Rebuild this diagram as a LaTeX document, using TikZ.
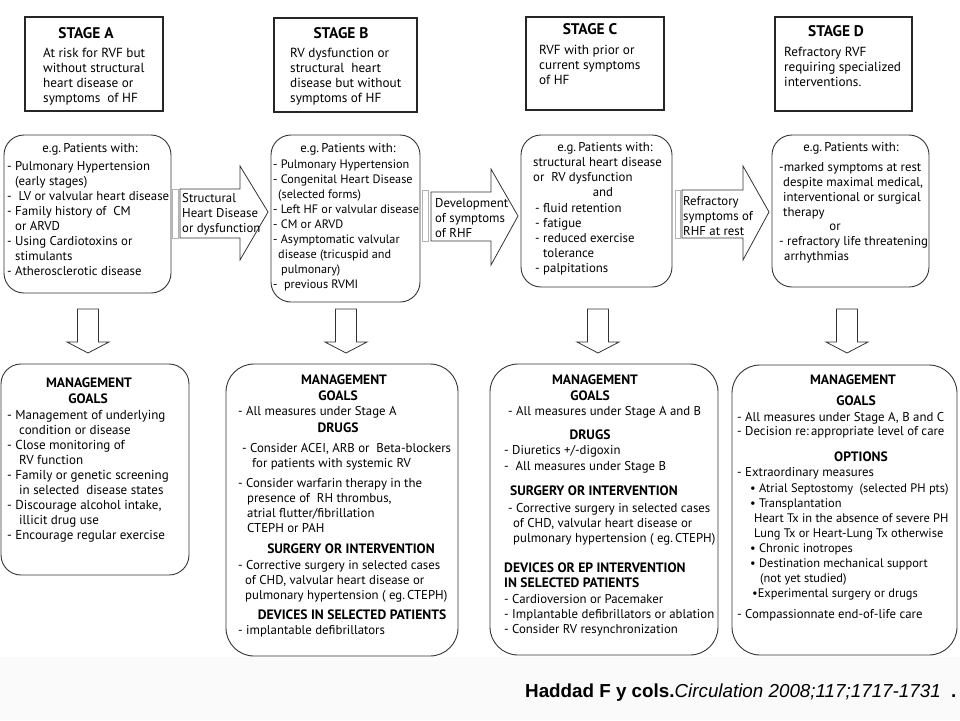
\documentclass[tikz,border=0pt]{standalone}
\usepackage{fontspec}
\setmainfont{PT Sans}
\newfontfamily\citefont{Liberation Sans}
\newcommand\mystrut{\rule{0pt}{10.5pt}}
\begin{document}
\begin{tikzpicture}[x=1pt,y=-1pt,
  stagebox/.style={draw=black!85, line width=1.6pt, fill=white, inner sep=0pt},
  rbox/.style={draw=black!80, line width=0.9pt, rounded corners=20pt, fill=white, inner sep=0pt},
  bbox/.style={draw=black!80, line width=0.9pt, rounded corners=28pt, fill=white, inner sep=0pt},
  blockarrow/.style={draw=black!80, line width=0.8pt, fill=white},
  graybar/.style={draw=black!30, line width=0.8pt, fill=white},
  txt/.style={anchor=north west, inner sep=0pt, align=left, font=\fontsize{12.8}{15}\selectfont},
  btxt/.style={anchor=north west, inner sep=0pt, align=left, font=\fontsize{13.6}{15}\selectfont\bfseries},
  ttl/.style={anchor=base, inner sep=0pt, font=\fontsize{13.6}{15}\selectfont\bfseries},
  stl/.style={anchor=base, inner sep=0pt, font=\fontsize{15.4}{15}\selectfont\bfseries},
  ctr/.style={anchor=base, inner sep=0pt, font=\fontsize{12.8}{15}\selectfont},
]
\useasboundingbox (0,0) rectangle (960,720);
\fill[white] (0,0) rectangle (960,720);
\fill[black!2] (0,657) rectangle (960,720);

% ---------- stage boxes ----------
\node[stagebox, minimum width=138pt, minimum height=94pt] (sa) at (94,64) {};
\node[stagebox, minimum width=143pt, minimum height=94pt] (sb) at (345.5,65) {};
\node[stagebox, minimum width=138pt, minimum height=93pt] (sc) at (595,63.5) {};
\node[stagebox, minimum width=137pt, minimum height=94pt] (sd) at (843.5,64) {};

\node[stl] (saT) at (86,38) {STAGE A};
\node[stl] (sbT) at (341,38) {STAGE B};
\node[stl] (scT) at (590,34) {STAGE C};
\node[stl] (sdT) at (836,36) {STAGE D};

\node[txt, font=\fontsize{13.2}{15}\selectfont] (saB) at (43,47) {\mystrut At risk for RVF but\\without structural\\heart disease or\\symptoms\ \ of HF};
\node[txt, font=\fontsize{13.2}{15}\selectfont] (sbB) at (290,47) {\mystrut RV dysfunction or\\structural\ \ heart\\disease but without\\symptoms of HF};
\node[txt, font=\fontsize{13.2}{15}\selectfont] (scB) at (539,44) {\mystrut RVF with prior or\\current symptoms\\of HF};
\node[txt, font=\fontsize{13.2}{15}\selectfont] (sdB) at (784,46) {\mystrut Refractory RVF\\requiring specialized\\interventions.};

% ---------- middle boxes ----------
\node[rbox, minimum width=167pt, minimum height=158pt] (ma) at (87.5,214) {};
\node[rbox, minimum width=149pt, minimum height=167pt] (mb) at (345.5,218.5) {};
\node[rbox, minimum width=151pt, minimum height=152pt] (mc) at (596.5,211) {};
\node[rbox, minimum width=157pt, minimum height=152pt] (md) at (850.5,211) {};

\node[ctr] (maT) at (90,152) {e.g.\,Patients with:};
\node[txt] (maB) at (7,160) {\mystrut - Pulmonary Hypertension\\
\hspace*{8pt}(early stages)\\
-\ \ LV or valvular heart disease\\
- Family history of\ \ CM\\
\hspace*{8pt}or ARVD\\
- Using Cardiotoxins or\\
\hspace*{8pt}stimulants\\
- Atherosclerotic disease};

\node[ctr] (mbT) at (348,152) {e.g.\,Patients with:};
\node[txt, font=\fontsize{12.2}{15}\selectfont] (mbB) at (273,158) {\mystrut - Pulmonary Hypertension\\
- Congenital Heart Disease\\
\hspace*{5pt}(selected forms)\\
- Left HF or valvular disease\\
- CM or ARVD\\
- Asymptomatic valvular\\
\hspace*{5pt}disease (tricuspid and\\
\hspace*{8pt}pulmonary)\\
-\ \ previous RVMI};

\node[ctr] (mcT) at (605,151) {e.g.\,Patients with:};
\node[txt] (mcB1) at (533,156) {\mystrut structural heart disease\\or\ \ RV dysfunction};
\node[ctr] (mcAnd) at (603,196) {and};
\node[txt] (mcB2) at (535,202) {\mystrut - fluid retention\\
- fatigue\\
- reduced exercise\\
\hspace*{8pt}tolerance\\
- palpitations};

\node[ctr] (mdT) at (851,151) {e.g.\,Patients with:};
\node[txt] (mdB1) at (779,161) {\mystrut -marked symptoms at rest\\
\hspace*{4pt}despite maximal medical,\\
\hspace*{4pt}interventional or surgical\\
\hspace*{4pt}therapy};
\node[ctr] (mdOr) at (835,230) {or};
\node[txt] (mdB2) at (779,235) {\mystrut - refractory life threatening\\
\hspace*{5pt}arrhythmias};

% ---------- horizontal block arrows ----------
\node[graybar, minimum width=6pt, minimum height=49pt, inner sep=0pt] (g1) at (175,213.5) {};
\draw[blockarrow] (180,189) -- (240,189) -- (240,166) -- (268,212) -- (240,260) -- (240,238) -- (180,238) -- cycle;
\node[txt] (h1) at (182,192) {\mystrut Structural\\Heart Disease\\or dysfunction};

\node[graybar, minimum width=6pt, minimum height=51pt, inner sep=0pt] (g2) at (425,215.5) {};
\draw[blockarrow] (431,192) -- (491,192) -- (491,169) -- (518,216) -- (491,265) -- (491,241) -- (431,241) -- cycle;
\node[txt] (h2) at (435,197) {\mystrut Development\\of symptoms\\of RHF};

\node[graybar, minimum width=5pt, minimum height=48pt, inner sep=0pt] (g3) at (677.5,214) {};
\draw[blockarrow] (682,190) -- (743,190) -- (743,166) -- (769,212) -- (743,260) -- (743,238) -- (682,238) -- cycle;
\node[txt] (h3) at (683,195) {\mystrut Refractory\\symptoms of\\RHF at rest};

% ---------- down arrows ----------
\foreach \cx in {88,346,598,847}{
  \draw[blockarrow] (\cx-10.5,309) -- (\cx+10.5,309) -- (\cx+10.5,342) -- (\cx+21,342) -- (\cx,353) -- (\cx-21,342) -- (\cx-10.5,342) -- cycle;
}

% ---------- bottom boxes ----------
\node[rbox, minimum width=188pt, minimum height=211pt] (ba) at (95,469.5) {};
\node[bbox, minimum width=232pt, minimum height=292pt] (bb) at (342,510) {};
\node[bbox, minimum width=228pt, minimum height=291pt] (bc) at (604,509.5) {};
\node[bbox, minimum width=225pt, minimum height=290pt] (bd) at (844.5,510) {};

% A
\node[ttl] (baT1) at (89,387) {MANAGEMENT};
\node[ttl] (baT2) at (88,403) {GOALS};
\node[txt, font=\fontsize{13}{15}\selectfont] (baB) at (7,409) {\mystrut - Management of underlying\\
\hspace*{12pt}condition or disease\\
- Close monitoring of\\
\hspace*{12pt}RV function\\
- Family or genetic screening\\
\hspace*{12pt}in selected\ \ disease states\\
- Discourage alcohol intake,\\
\hspace*{12pt}illicit drug use\\
- Encourage regular exercise};

% B
\node[ttl] (bbT1) at (344,384) {MANAGEMENT};
\node[ttl] (bbT2) at (338,400) {GOALS};
\node[txt] (bbG) at (238,405) {\mystrut - All measures under Stage A};
\node[ttl] (bbD) at (338,432) {DRUGS};
\node[txt] (bbD1) at (242,442) {\mystrut - Consider ACEI, ARB or\ \ Beta-blockers\\
\hspace*{10pt}for patients with systemic RV};
\node[txt] (bbD2) at (238,477) {\mystrut - Consider warfarin therapy in the\\
\hspace*{9pt}presence of\ \ RH thrombus,\\
\hspace*{9pt}atrial flutter/fibrillation\\
\hspace*{9pt}CTEPH or PAH};
\node[ttl] (bbS) at (351,553) {SURGERY OR INTERVENTION};
\node[txt] (bbS1) at (238,559) {\mystrut - Corrective surgery in selected cases\\
\hspace*{7pt}of CHD, valvular heart disease or\\
\hspace*{7pt}pulmonary hypertension ( eg.\,CTEPH)};
\node[ttl] (bbV) at (352,619) {DEVICES IN SELECTED PATIENTS};
\node[txt] (bbV1) at (238,624) {\mystrut - implantable defibrillators};

% C
\node[ttl] (bcT1) at (595,384) {MANAGEMENT};
\node[ttl] (bcT2) at (590,400) {GOALS};
\node[txt] (bcG) at (508,405) {\mystrut - All measures under Stage A and B};
\node[ttl] (bcD) at (590,439) {DRUGS};
\node[txt, font=\fontsize{12.8}{16}\selectfont] (bcD1) at (504,444) {\mystrut - Diuretics +/-digoxin\\
-\ \ All measures under Stage B};
\node[btxt] (bcS) at (510,485) {\mystrut SURGERY OR INTERVENTION};
\node[txt] (bcS1) at (508,502) {\mystrut - Corrective surgery in selected cases\\
\hspace*{5pt}of CHD, valvular heart disease or\\
\hspace*{5pt}pulmonary hypertension ( eg.\,CTEPH)};
\node[btxt] (bcV) at (504,562) {\mystrut DEVICES OR EP INTERVENTION\\IN SELECTED PATIENTS};
\node[txt] (bcV1) at (504,593) {\mystrut - Cardioversion or Pacemaker\\
- Implantable defibrillators or ablation\\
- Consider RV resynchronization};

% D
\node[ttl] (bdT1) at (853,384) {MANAGEMENT};
\node[ttl] (bdT2) at (856,405) {GOALS};
\node[txt, font=\fontsize{12.8}{14}\selectfont] (bdG) at (737,411) {\mystrut - All measures under Stage A, B and C\\
- Decision re:\,appropriate level of care};
\node[ttl] (bdO) at (861,461) {OPTIONS};
\node[txt] (bdO1) at (737,466) {\mystrut - Extraordinary measures};
\node[txt, font=\fontsize{12.4}{15}\selectfont] (bdO2) at (750,482) {\mystrut \textbullet\ Atrial Septostomy\ \ (selected PH pts)\\
\textbullet\ Transplantation\\
\hspace*{4pt}Heart Tx in the absence of severe PH\\
\hspace*{4pt}Lung Tx or Heart-Lung Tx otherwise\\
\textbullet\ Chronic inotropes\\
\textbullet\ Destination mechanical support\\
\hspace*{10pt}(not yet studied)\\
\hspace*{2pt}\textbullet Experimental surgery or drugs};
\node[txt] (bdC) at (737,608) {\mystrut - Compassionnate end-of-life care};

% ---------- citation ----------
\node[anchor=base west, inner sep=0pt, font=\citefont\fontsize{18.8}{20}\selectfont] (cite) at (525,697)
  {{\bfseries Haddad F y cols.}{\itshape Circulation 2008;117;1717-1731}\ \ {\bfseries .}};
\end{tikzpicture}
\end{document}
